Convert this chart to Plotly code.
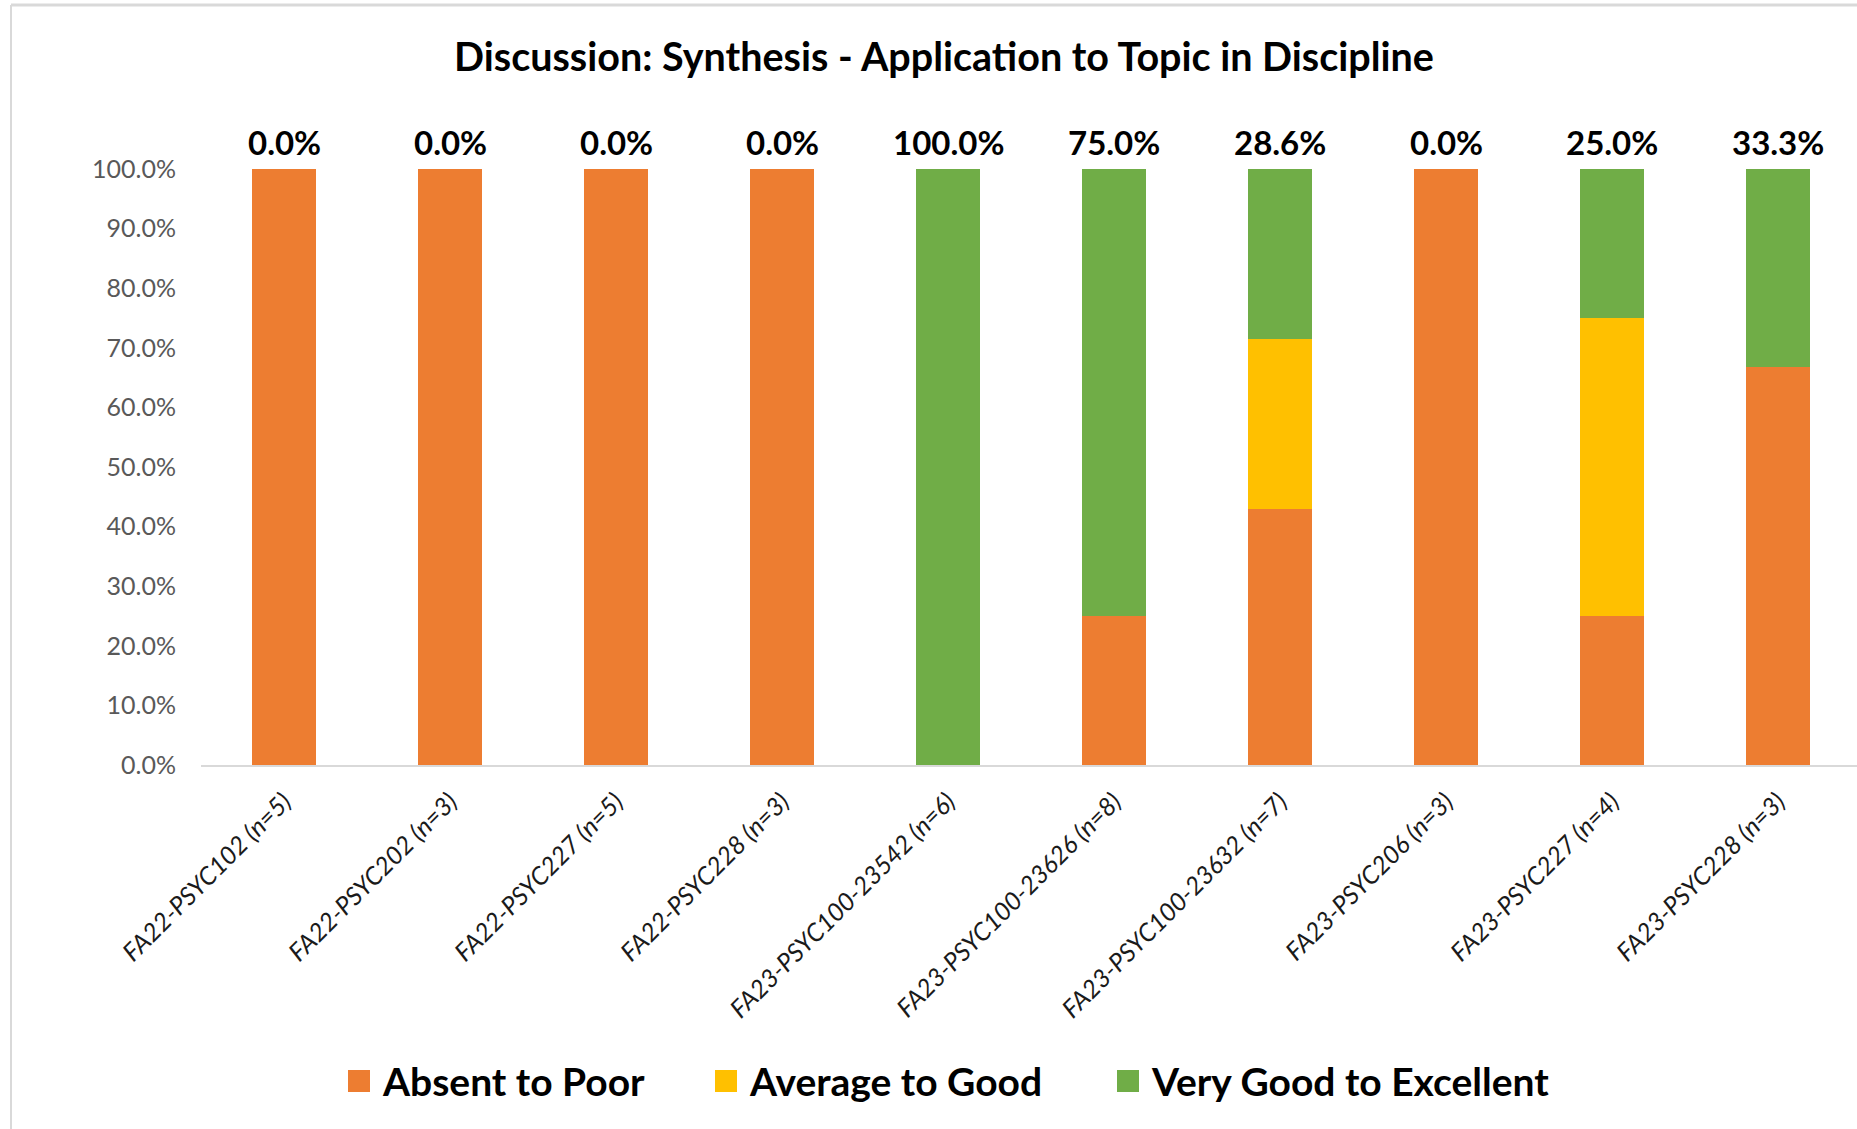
import plotly.graph_objects as go

# Course sections and the share of students at each rubric level (%)
courses = [
    "FA22-PSYC102 (n=5)",
    "FA22-PSYC202 (n=3)",
    "FA22-PSYC227 (n=5)",
    "FA22-PSYC228 (n=3)",
    "FA23-PSYC100-23542 (n=6)",
    "FA23-PSYC100-23626 (n=8)",
    "FA23-PSYC100-23632 (n=7)",
    "FA23-PSYC206 (n=3)",
    "FA23-PSYC227 (n=4)",
    "FA23-PSYC228 (n=3)",
]
absent_to_poor = [100.0, 100.0, 100.0, 100.0, 0.0, 25.0, 42.9, 100.0, 25.0, 66.7]
average_to_good = [0.0, 0.0, 0.0, 0.0, 0.0, 0.0, 28.6, 0.0, 50.0, 0.0]
very_good_to_excellent = [0.0, 0.0, 0.0, 0.0, 100.0, 75.0, 28.6, 0.0, 25.0, 33.3]
y_ticks = [0, 10, 20, 30, 40, 50, 60, 70, 80, 90, 100]

series = [
    ("Absent to Poor", absent_to_poor, "#ED7D31"),
    ("Average to Good", average_to_good, "#FFC000"),
    ("Very Good to Excellent", very_good_to_excellent, "#70AD47"),
]

W, H = 1857, 1129
L, R, T, B = 201, 0, 169, 364
PW, PH = W - L - R, H - T - B

def px_x(px):
    return (px - L) / PW

def px_y(py):
    return (H - B - py) / PH

FONT = "Lato"

fig = go.Figure()
for name, vals, color in series:
    fig.add_trace(go.Bar(
        x=courses, y=vals, name=name,
        marker=dict(color=color, line=dict(width=0)),
        showlegend=False,
    ))

# Share at the top level printed above each column
for c, v in zip(courses, very_good_to_excellent):
    fig.add_annotation(
        x=c, y=100, xref="x", yref="y", text=f"<b>{v:.1f}%</b>",
        showarrow=False, yanchor="bottom", yshift=5,
        font=dict(family=FONT, size=33, color="#000000"),
    )

# Legend: coloured squares followed by bold labels
legend_x = [348, 715, 1117]
legend_y = 1081
sq = 22
for (name, _, color), lx in zip(series, legend_x):
    fig.add_shape(
        type="rect", xref="paper", yref="paper",
        x0=px_x(lx), x1=px_x(lx + sq), y0=px_y(legend_y + sq / 2), y1=px_y(legend_y - sq / 2),
        fillcolor=color, line=dict(width=0),
    )
    fig.add_annotation(
        x=px_x(lx + sq + 10), y=px_y(legend_y), xref="paper", yref="paper",
        text=f"<b>{name}</b>", showarrow=False, xanchor="left", yanchor="middle",
        font=dict(family=FONT, size=39, color="#000000"),
    )

# Light chart-area frame along the left and top edges
fig.add_shape(type="line", xref="paper", yref="paper",
              x0=px_x(11), x1=px_x(11), y0=px_y(5), y1=px_y(H + 5),
              line=dict(color="#D9D9D9", width=2))
fig.add_shape(type="line", xref="paper", yref="paper",
              x0=px_x(11), x1=px_x(W + 5), y0=px_y(5), y1=px_y(5),
              line=dict(color="#D9D9D9", width=3))

fig.update_layout(
    width=W, height=H,
    margin=dict(l=L, r=R, t=T, b=B, autoexpand=False),
    paper_bgcolor="white", plot_bgcolor="white",
    barmode="stack", bargap=0.61,
    showlegend=False,
    title=dict(
        text="<b>Discussion: Synthesis - Application to Topic in Discipline</b>",
        x=944 / W, xanchor="center", y=1 - 57 / H, yanchor="middle",
        xref="container", yref="container",
        font=dict(family=FONT, size=39.5, color="#000000"),
    ),
    xaxis=dict(
        range=[-0.5, -0.5 + PW / 166.0],
        tickangle=-45,
        tickfont=dict(family=FONT, size=25, color="#1a1a1a", style="italic"),
        showgrid=False, zeroline=False,
        showline=True, linecolor="#D9D9D9", linewidth=2,
        ticks="", ticklabelstandoff=10,
    ),
    yaxis=dict(
        range=[0, 100],
        tickvals=y_ticks,
        ticktext=[f"{v:.1f}%" for v in y_ticks],
        tickfont=dict(family=FONT, size=25, color="#595959"),
        showgrid=False, zeroline=False, showline=False,
        ticks="", ticklabelstandoff=24,
    ),
)

fig.write_html("out.html")
